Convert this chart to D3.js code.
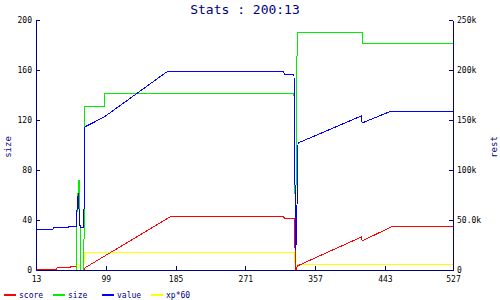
<!DOCTYPE html>
<html>
<head>
<meta charset="utf-8">
<script src="https://cdn.jsdelivr.net/npm/d3@7"></script>
<style>
body { margin: 0; background: #fff; }
svg { display: block; }
text { font-family: "DejaVu Sans Mono", monospace; }
</style>
</head>
<body>
<svg width="500" height="300"></svg>
<script>
// data: [turn, value]
var score = [[13,500],[20,1000],[38,1000],[39,2300],[55,2300],[56,3300],[63,3300],[63.5,0],[72,0],[73,2000],[180,54000],[318,54000],[319,52000],[331,52000],[332,30000],[333,0],[334,0],[335,4000],[414,33000],[415,29000],[453,44000],[527,44000]];
var size = [[63,0],[63.5,47],[64.5,47],[65,72],[67,72],[67.5,0],[72,0],[73,131],[97,131],[98,141],[331,141],[332,76],[333,16],[334,121],[335,190],[415,190],[416,181],[527,181]];
var value = [[13,40700],[34,40700],[35,42700],[53,42700],[54,44000],[63,44000],[63.5,59000],[65,77000],[67,45000],[68,43000],[72,43000],[73,143000],[97,153000],[174,198000],[180,199000],[318,199000],[319,196000],[331,196000],[333,20000],[334,30000],[336,127000],[414,154000],[415,147000],[451,159000],[527,159000]];
var xp60 = [[13,0],[63,0],[63.5,6000],[67,6000],[67.5,0],[72,0],[72.5,18000],[331,18000],[332,10000],[333,0],[334,0],[335,6000],[527,6000]];

var xTicks = [13, 99, 185, 271, 357, 443, 527];
var leftTicks = [0, 40, 80, 120, 160, 200];
var rightTicks = [0, 50000, 100000, 150000, 200000, 250000];
var rightTickLabels = ["0", "50.0k", "100k", "150k", "200k", "250k"];

var seriesNames = ["score", "size", "value", "xp*60"];
var seriesColors = ["#ff0000", "#00ee00", "#0000ff", "#ffff00"];

var svg = d3.select("svg");
var plotLeft = 36, plotRight = 453, plotTop = 20, plotBottom = 270;
var navy = "#000080";

var x = d3.scaleLinear().domain([13, 527]).range([plotLeft, plotRight]);
var yLeft = d3.scaleLinear().domain([0, 200]).range([plotBottom, plotTop]);
var yRight = d3.scaleLinear().domain([0, 250000]).range([plotBottom, plotTop]);

svg.append("text")
  .attr("x", 245)
  .attr("y", 14)
  .attr("text-anchor", "middle")
  .attr("fill", navy)
  .style("font-size", "13px")
  .text("Stats : 200:13");

// lines
function drawLine(data, y, color) {
  var line = d3.line().x(d => x(d[0])).y(d => y(d[1]));
  svg.append("path")
    .datum(data)
    .attr("d", line)
    .attr("fill", "none")
    .attr("stroke", color)
    .attr("stroke-width", 1)
    .attr("shape-rendering", "crispEdges");
}
drawLine(xp60, yRight, seriesColors[3]);
drawLine(score, yRight, seriesColors[0]);
drawLine(size, yLeft, seriesColors[1]);
drawLine(value, yRight, seriesColors[2]);

// axes (ticks point inward)
function styleAxis(g) {
  g.selectAll("path, line").attr("stroke", navy).attr("shape-rendering", "crispEdges");
  g.selectAll("text").attr("fill", "#000").style("font-size", "8px").style("font-family", "DejaVu Sans Mono, monospace");
}

svg.append("g")
  .attr("transform", "translate(0," + plotBottom + ")")
  .call(d3.axisBottom(x).tickValues(xTicks).tickSizeInner(-4).tickSizeOuter(0).tickPadding(6))
  .call(styleAxis);

svg.append("g")
  .attr("transform", "translate(" + plotLeft + ",0)")
  .call(d3.axisLeft(yLeft).tickValues(leftTicks).tickSizeInner(-4).tickSizeOuter(0).tickPadding(4))
  .call(styleAxis);

svg.append("g")
  .attr("transform", "translate(" + plotRight + ",0)")
  .call(d3.axisRight(yRight).tickValues(rightTicks)
    .tickFormat((d, i) => rightTickLabels[i])
    .tickSizeInner(-4).tickSizeOuter(0).tickPadding(4))
  .call(styleAxis);

svg.append("text")
  .attr("transform", "translate(11,147) rotate(-90)")
  .attr("text-anchor", "middle")
  .attr("fill", navy)
  .style("font-size", "9px")
  .text("size");

svg.append("text")
  .attr("transform", "translate(497,147) rotate(-90)")
  .attr("text-anchor", "middle")
  .attr("fill", navy)
  .style("font-size", "9px")
  .text("rest");

// legend
var legendX = [4, 53, 102, 151];
var legend = svg.selectAll(".legend")
  .data(seriesNames)
  .enter()
  .append("g")
  .attr("class", "legend")
  .attr("transform", (d, i) => "translate(" + legendX[i] + ",295)");

legend.append("rect")
  .attr("x", 0)
  .attr("y", -1)
  .attr("width", 12)
  .attr("height", 2)
  .attr("fill", (d, i) => seriesColors[i]);

legend.append("text")
  .attr("x", 15)
  .attr("y", 3)
  .attr("fill", navy)
  .style("font-size", "8px")
  .text(d => d);
</script>
</body>
</html>
